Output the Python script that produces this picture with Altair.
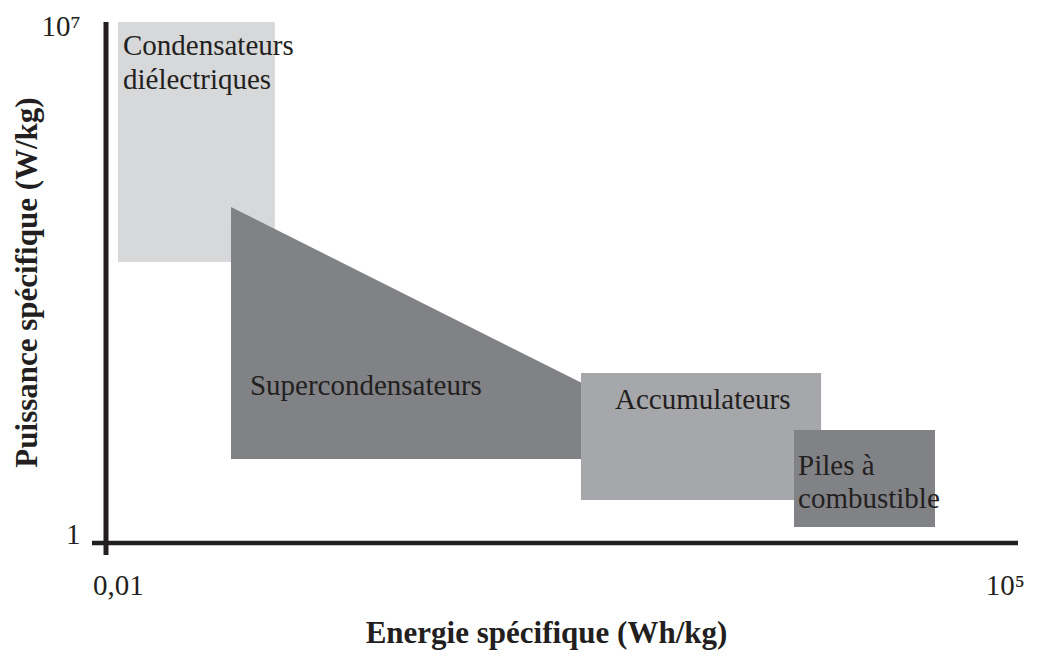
import altair as alt
import pandas as pd

# Rectangular domains (energy Wh/kg, power W/kg)
rect_names = ["Condensateurs diélectriques", "Accumulateurs", "Piles à combustible"]
rect_e1 = [0.01, 45.1, 2165]
rect_e2 = [0.173, 3540, 28060]
rect_p1 = [5960, 3.78, 1.64]
rect_p2 = [1.0e7, 192, 33]
rect_colors = ["#d7d8da", "#a6a7aa", "#818286"]

# Supercondensateurs trapezoid
super_e = [0.078, 45.9]
super_top = [32700, 141]
super_bottom = [13.4, 13.4]
super_color = "#818286"

# Labels
label_text = ["Condensateurs", "diélectriques", "Supercondensateurs", "Accumulateurs", "Piles à", "combustible"]
label_e = [0.01095, 0.01095, 0.110, 83.7, 2328, 2328]
label_p = [3.6e6, 1.26e6, 97.3, 63.1, 8.2, 2.95]

# Axis
x_ticks = [0.01, 1e5]
x_tick_labels = ["0,01", "10⁵"]
y_ticks = [1, 1e7]
y_tick_labels = ["1", "10⁷"]
x_domain = [0.00624, 126800]
y_domain = [0.690, 1.0e7]

FONT = "Liberation Serif"
INK = "#231f20"
W, H = 926, 533

rects = pd.DataFrame({"name": rect_names, "e1": rect_e1, "e2": rect_e2,
                      "p1": rect_p1, "p2": rect_p2, "color": rect_colors})
sup = pd.DataFrame({"e": super_e, "top": super_top, "bottom": super_bottom})
labels = pd.DataFrame({"t": label_text, "e": label_e, "p": label_p})

xlabel_expr = "datum.value < 1 ? '%s' : '%s'" % tuple(x_tick_labels)
ylabel_expr = "datum.value < 10 ? '%s' : '%s'" % tuple(y_tick_labels)

xscale = alt.Scale(type="log", domain=x_domain, nice=False)
yscale = alt.Scale(type="log", domain=y_domain, nice=False)

xaxis = alt.Axis(values=x_ticks, labelExpr=xlabel_expr, domain=False, ticks=False, grid=False,
                 labelFont=FONT, labelFontSize=29, labelColor=INK, labelPadding=16,
                 labelFlush=False, labelOverlap=False,
                 title="Energie spécifique (Wh/kg)", titleFont=FONT, titleFontSize=31,
                 titleFontWeight="bold", titleColor=INK, titleX=454, titleY=87,
                 titleBaseline="alphabetic", titleAnchor="middle")
yaxis = alt.Axis(values=y_ticks, labelExpr=ylabel_expr, domain=False, ticks=False, grid=False,
                 labelFont=FONT, labelFontSize=29, labelColor=INK, labelPadding=12,
                 labelBaseline="alphabetic", labelFlush=False, labelOverlap=False,
                 labelOffset={"condition": {"test": "datum.value > 10", "value": 13}, "value": 0},
                 title="Puissance spécifique (W/kg)", titleFont=FONT, titleFontSize=31,
                 titleFontWeight="bold", titleColor=INK, titleX=-65, titleY=260,
                 titleBaseline="middle", titleAlign="center", titleAngle=270)

base_rect = alt.Chart(rects)
cond = base_rect.transform_filter("datum.name == 'Condensateurs diélectriques'").mark_rect().encode(
    x=alt.X("e1:Q", scale=xscale, axis=xaxis), x2="e2:Q",
    y=alt.Y("p1:Q", scale=yscale, axis=yaxis), y2="p2:Q",
    color=alt.Color("color:N", scale=None))

area = alt.Chart(sup).mark_area(color=super_color, opacity=1).encode(
    x=alt.X("e:Q", scale=xscale), y=alt.Y("top:Q", scale=yscale), y2="bottom:Q")

others = base_rect.transform_filter("datum.name != 'Condensateurs diélectriques'").mark_rect().encode(
    x=alt.X("e1:Q", scale=xscale), x2="e2:Q",
    y=alt.Y("p1:Q", scale=yscale), y2="p2:Q",
    color=alt.Color("color:N", scale=None))

xline = alt.Chart(pd.DataFrame({"p": [1]})).mark_rule(color=INK, strokeWidth=4.5).encode(
    y=alt.Y("p:Q", scale=yscale), x=alt.value(0), x2=alt.value(W))
yline = alt.Chart(pd.DataFrame({"p": [1]})).mark_rule(color=INK, strokeWidth=5).encode(
    x=alt.value(14), y=alt.value(0), y2=alt.value(H))

text = alt.Chart(labels).mark_text(font=FONT, fontSize=29, color=INK, align="left",
                                   baseline="alphabetic").encode(
    x=alt.X("e:Q", scale=xscale), y=alt.Y("p:Q", scale=yscale), text="t:N")

chart = alt.layer(cond, area, others, xline, yline, text).properties(
    width=W, height=H, autosize=alt.AutoSizeParams(type="none"),
    padding={"left": 84, "top": 14, "right": 10, "bottom": 97},
    background="white"
).configure_view(stroke=None)

chart.save("out.html", embed_options={"renderer": "svg", "actions": False})
